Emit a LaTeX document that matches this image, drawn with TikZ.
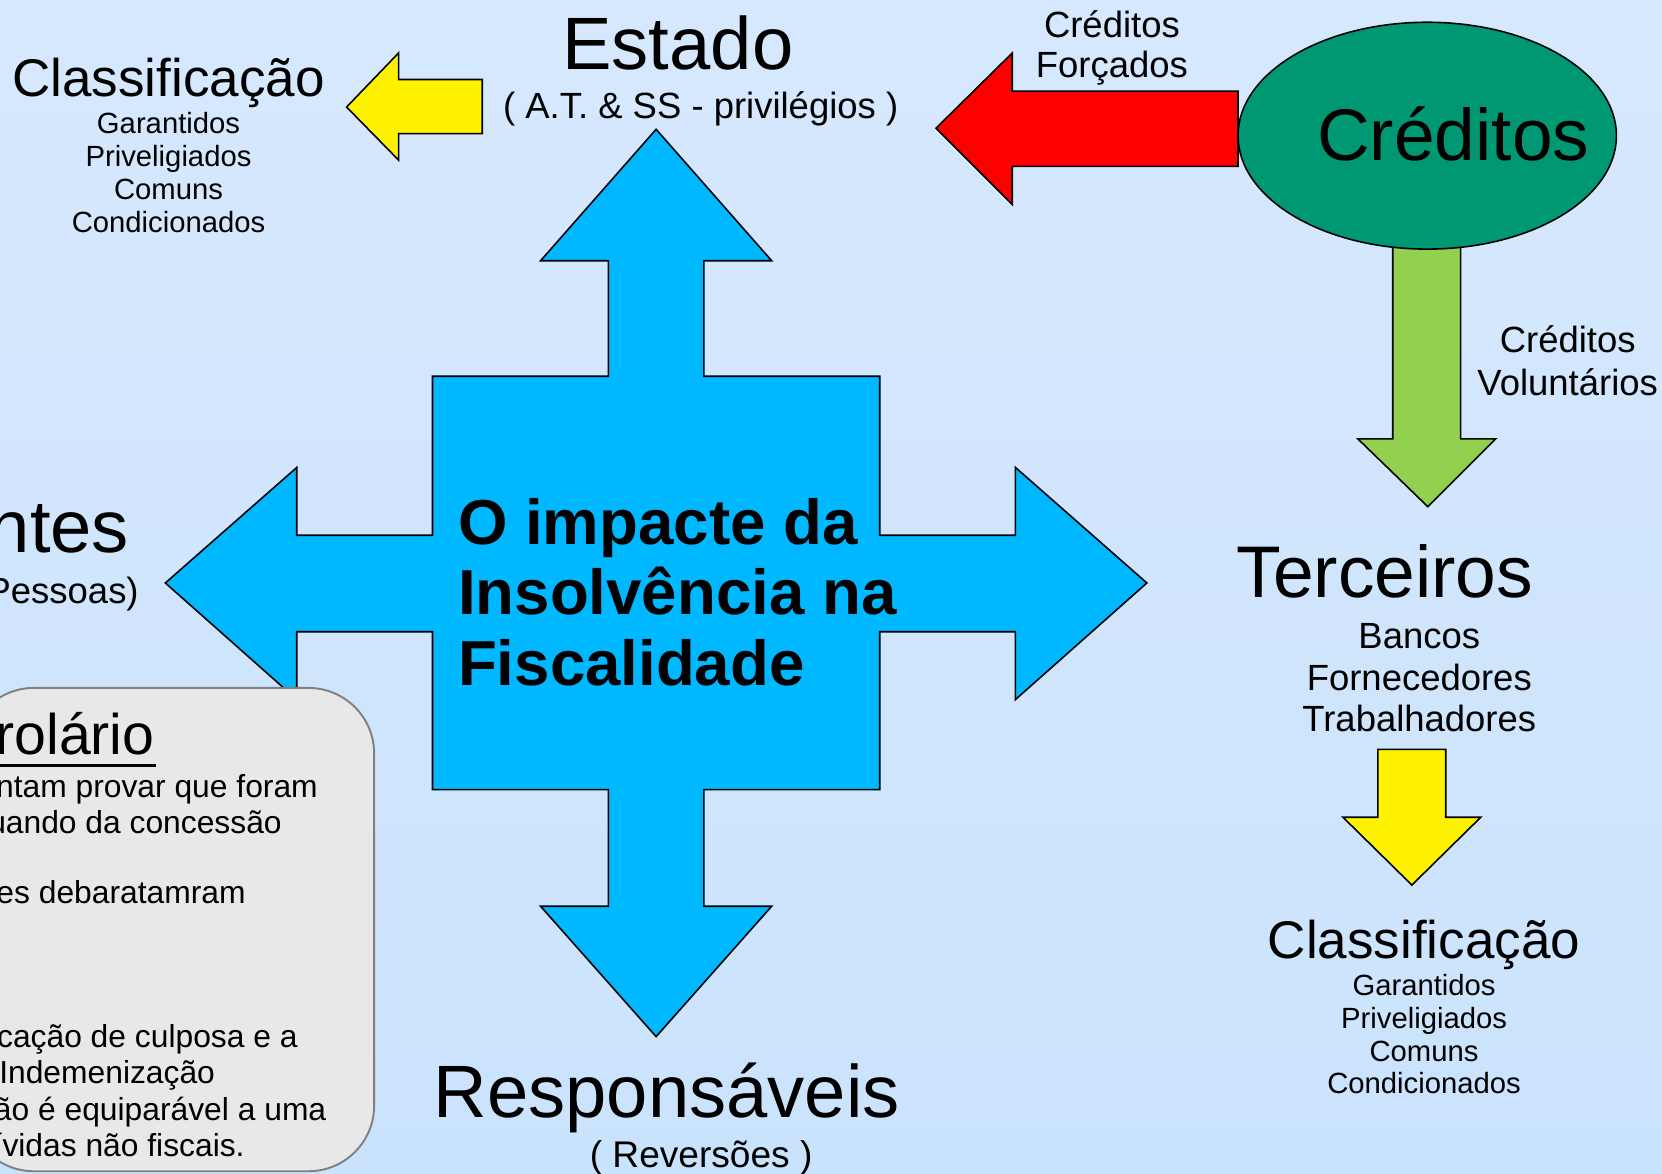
\documentclass[tikz,border=0pt]{standalone}
\usepackage{fontspec}
\setmainfont{Liberation Sans}
\usetikzlibrary{shapes.geometric}
\definecolor{crossblue}{RGB}{0,184,255}
\definecolor{credgreen}{RGB}{0,152,114}
\definecolor{lightgreen}{RGB}{146,208,80}
\definecolor{bgtop}{RGB}{214,232,253}
\definecolor{bgmid}{RGB}{189,218,250}
\definecolor{bgbot}{RGB}{202,227,252}
\definecolor{boxgrey}{RGB}{232,232,232}
\definecolor{boxline}{RGB}{128,128,128}
\tikzset{
  txt/.style={inner sep=0pt, anchor=base},
  sz70/.style={txt, font=\fontsize{70}{80}\selectfont},
  sz69/.style={txt, font=\fontsize{69}{80}\selectfont},
  sz68/.style={txt, font=\fontsize{69}{78}\selectfont},
  sz54/.style={txt, font=\fontsize{50}{60}\selectfont},
  sz34/.style={txt, font=\fontsize{34.4}{40}\selectfont},
  sz32/.style={txt, font=\fontsize{35}{40}\selectfont},
  sz28/.style={txt, font=\fontsize{27.6}{31}\selectfont},
  boxtxt/.style={inner sep=0pt, anchor=base east, font=\fontsize{30}{34}\selectfont},
  blockarrow/.style={draw=black, line width=1.5pt, line join=miter},
}
\begin{document}
\begin{tikzpicture}[x=1pt,y=-1pt]
\useasboundingbox (0,0) rectangle (1568,1107);
% background
\shade[top color=bgtop, middle color=bgmid, bottom color=bgbot] (0,0) rectangle (1568,1107);

% central cross
\path[blockarrow, fill=crossblue]
  (619,122) -- (728,246) -- (664,246) -- (664,355) -- (830,355) -- (830,505)
  -- (958,505) -- (958,441) -- (1082,550) -- (958,660) -- (958,596) -- (830,596)
  -- (830,745) -- (664,745) -- (664,855) -- (728,855) -- (619,978) -- (510,855)
  -- (574,855) -- (574,745) -- (408,745) -- (408,596) -- (280,596) -- (280,660)
  -- (156,550) -- (280,441) -- (280,505) -- (408,505) -- (408,355) -- (574,355)
  -- (574,246) -- (510,246) -- cycle;

\node[txt, anchor=base west, font=\bfseries\fontsize{60}{67}\selectfont] (t1) at (432,514) {O impacte da};
\node[txt, anchor=base west, font=\bfseries\fontsize{60}{67}\selectfont] (t2) at (432,580) {Insolvência na};
\node[txt, anchor=base west, font=\bfseries\fontsize{60}{67}\selectfont] (t3) at (432,647) {Fiscalidade};

% yellow arrow top left
\path[blockarrow, fill=yellow]
  (327,101) -- (376,50) -- (376,75) -- (455,75) -- (455,126) -- (376,126) -- (376,151) -- cycle;

% red arrow
\path[blockarrow, fill=red]
  (883,121) -- (955,50) -- (955,86) -- (1168,86) -- (1168,157) -- (955,157) -- (955,193) -- cycle;

% green arrow
\path[blockarrow, fill=lightgreen]
  (1314,225) -- (1378,225) -- (1378,414) -- (1411,414) -- (1347,478) -- (1281,414) -- (1314,414) -- cycle;

% ellipse Créditos
\node[ellipse, draw=black, line width=1.5pt, fill=credgreen, minimum width=357pt, minimum height=214pt, inner sep=0pt] (cred) at (1346.5,128) {};
\node[sz69] (credt) at (1371,151) {Créditos};

% yellow arrow right
\path[blockarrow, fill=yellow]
  (1300,707) -- (1364,707) -- (1364,771) -- (1397,771) -- (1332,835) -- (1267,771) -- (1300,771) -- cycle;

% Estado
\node[sz70] (estado) at (639.5,66) {Estado};
\node[sz34] (estsub) at (661,112) {( A.T. \& SS - privilégios )};

% Classificação top-left
\node[sz54] (cls1) at (159,91) {Classificação};
\foreach \t/\y [count=\i] in {Garantidos/126, Priveligiados/157, Comuns/188, Condicionados/219}
  \node[sz28] (cl1\i) at (159,\y) {\t};

% Créditos Forçados
\node[sz34] (cf1) at (1049,35) {Créditos};
\node[sz34] (cf2) at (1049,73) {Forçados};

% Créditos Voluntários
\node[sz34] (cv1) at (1479,333) {Créditos};
\node[sz34] (cv2) at (1479,373) {Voluntários};

% Terceiros
\node[sz68] (terc) at (1306.5,564) {Terceiros};
\node[sz34] (ter1) at (1339,612) {Bancos};
\node[sz34] (ter2) at (1339,651) {Fornecedores};
\node[sz34] (ter3) at (1339,690) {Trabalhadores};

% Classificação bottom-right
\node[sz54] (cls2) at (1343.5,904) {Classificação};
\foreach \t/\y [count=\i] in {Garantidos/939.5, Priveligiados/970.5, Comuns/1001.5, Condicionados/1032}
  \node[sz28] (cl2\i) at (1343.5,\y) {\t};

% Responsáveis
\node[sz70] (resp) at (629,1054) {Responsáveis};
\node[sz32] (respsub) at (661.5,1101) {( Reversões )};

% left cut texts
\node[sz70, anchor=base east] (ntes) at (122,521) {ntes};
\node[sz34, anchor=base east] (pess) at (131,569) {Pessoas)};

% Corolário box
\path[draw=boxline, line width=1.8pt, fill=boxgrey, rounded corners=62pt]
  (-30,649) -- (353,649) -- (353,1105) -- (-30,1105) -- cycle;
\node[sz54, anchor=base east, font=\fontsize{54}{60}\selectfont] (cor) at (146,712) {rolário};
\draw[line width=2.6pt] (-10,722) -- (147,722);
\node[boxtxt] (b1) at (300,752) {ntam provar que foram};
\node[boxtxt] (b2) at (266,786) {uando da concessão};
\node[boxtxt] (b3) at (232,852) {es debaratamram};
\node[boxtxt] (b4) at (281,988) {cação de culposa e a};
\node[boxtxt] (b5) at (203,1022) {Indemenização};
\node[boxtxt] (b6) at (308,1057) {ão é equiparável a uma};
\node[boxtxt] (b7) at (231,1091) {ívidas não fiscais.};
\end{tikzpicture}
\end{document}
